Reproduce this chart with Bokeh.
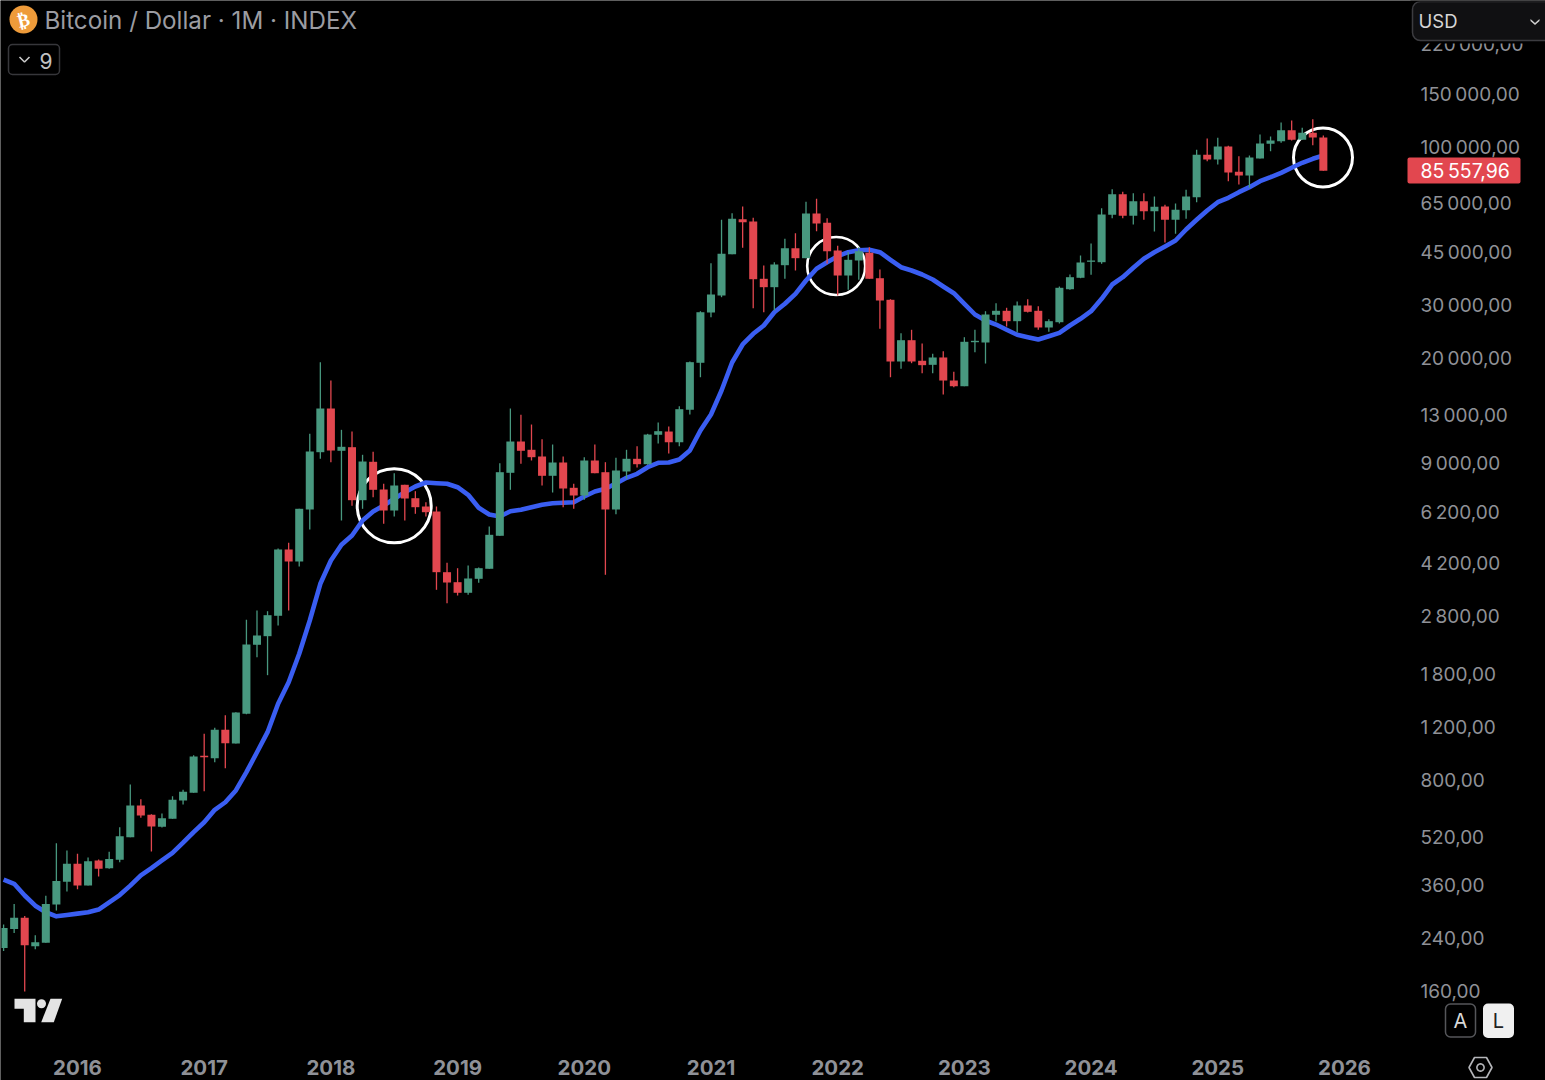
import numpy as np
from bokeh.plotting import figure
from bokeh.models import (BoxAnnotation, ColumnDataSource, FixedTicker, Label, LinearScale,
                          PolyAnnotation, Range1d)
from bokeh.embed import file_html
from bokeh.resources import INLINE

TITLE = "Bitcoin / Dollar · 1M · INDEX"
LAST_PRICE_TEXT = "85\u2009557,96"
CURRENCY = "USD"
INDICATOR_COUNT = "9"

# Monthly candles, Jun 2015 to Nov 2025
OPEN = [223,258,281,226,232,311,370,424,359,435,410,437,519,661,616,562,598,687,729,966,949,
        1178,1061,1331,2253,2406,2811,4661,4253,6323,9789,13660,9894,10170,6788,9098,7365,6275,7634,6892,6469,6227,
        3920,3632,3350,3727,4023,5174,8365,10620,9970,9473,8176,9049,7461,7036,9188,8404,6323,8449,9308,8933,11180,
        11460,10560,13530,19360,28410,32340,44320,57880,56870,36740,34460,40750,46390,42990,60450,56310,45590,37670,42240,44790,36900,
        31300,19550,23000,19660,19060,20160,16910,16190,22650,22600,27920,28780,26590,29970,28780,25340,26380,33930,37020,41820,41690,
        59850,70030,59400,66390,61520,63760,57610,61990,68450,94580,91250,100800,83080,80770,91950,102900,104900,114100,106000,111900,107900]
HIGH = [267,312,285,246,332,496,469,458,445,438,465,560,776,694,619,622,710,746,971,1143,1196,
        1317,1347,2726,2927,2911,4696,4905,6357,11260,19450,16910,11610,11460,9597,9819,7692,8340,7634,7270,6685,6469,
        4211,4041,4125,4063,5554,9001,13660,13020,12090,10810,10380,9473,7692,9422,10380,9070,9379,9970,10250,11260,12280,
        11910,13900,19550,28690,41380,57610,60590,63760,58500,40660,41690,49840,52020,66090,67620,58320,47250,45000,46750,46750,39440,
        31440,24260,24900,22430,20730,21150,18070,23530,24900,28690,30500,29450,30900,31440,29810,26990,34640,37960,43880,48090,62940,
        72760,71330,70570,70570,68820,64600,65240,72420,98260,107100,107700,101300,93580,94080,110400,108800,121000,122900,116200,124100,109600]
LOW = [218,250,160,221,232,297,343,349,359,385,408,429,519,602,466,559,598,666,729,738,920,
       879,1061,1327,2050,1787,2610,2927,4094,5429,9308,9070,5814,6504,6357,6945,5670,5994,5814,6119,5994,3427,
       3094,3281,3299,3615,4023,5174,7348,8960,9188,7593,7198,6435,6357,6809,8340,3843,6100,7991,8711,8892,10460,
       9692,10250,13050,17340,27410,31930,44320,46530,29360,28470,28850,36740,39140,42990,52810,41190,32340,33780,36460,36740,25090,
       17340,18490,19300,17880,17880,15200,16070,16190,20990,19250,26520,25530,24450,28410,24900,24520,26120,33780,36900,37870,41190,
       58320,58320,55580,57610,52690,48450,51780,58050,65890,90080,87840,77330,75410,73540,91950,97220,103600,105500,106000,101800,83720]
CLOSE = [260,281,228,233,312,372,424,359,432,408,440,523,661,613,564,600,691,734,961,956,1178,
         1064,1344,2258,2419,2824,4661,4253,6357,9841,13660,9916,10200,6788,9118,7348,6275,7593,6876,6435,6194,3920,
         3623,3350,3736,4041,5213,8404,10620,9894,9422,8176,9049,7421,7036,9188,8340,6323,8514,9308,8933,11200,11490,
         10560,13590,19450,28470,32590,44450,58050,56570,36620,34460,40970,46390,42990,60450,56010,45340,37670,42460,45340,36740,31130,
         19550,23000,19550,19010,20160,16910,16190,22720,22890,27980,28780,26590,29970,28560,25340,26590,34300,37190,41600,42240,59990,
         70030,59400,66390,61520,63620,57610,62180,68820,94580,91250,100800,82640,80770,92660,103100,105500,114100,106000,111900,107900,83720]
MA = [376,364,333,308,293,284,287,290,293,299,316,334,359,388,410,435,461,498,540,582,640,678,742,853,993,1157,1437,1694,2104,2712,3588,4285,4831,5186,5814,6227,6519,6861,7215,7535,7769,7728,7692,7495,7073,6406,6086,5994,6242,6309,6435,6554,6634,6655,6685,6982,7254,7404,7710,8052,8302,8731,9028,9049,9259,9916,11550,13050,15670,19400,22260,24150,25730,28470,30360,32760,36260,39650,41690,43650,45000,45690,45830,45000,42460,40130,39140,37960,36540,34640,32910,30360,27980,26730,25920,24900,23970,23530,23120,23710,24330,25730,27080,28690,31540,35170,37190,39950,42790,45000,47000,49200,53500,57610,61850,65890,68140,71110,73880,77330,79730,82450,85660,88990,91740,94080]
FIRST_MONTH = -7   # months after Jan 2016
YEARS = list(range(2016, 2027))
PRICE_TICKS = [160,240,360,520,800,1200,1800,2800,4200,6200,9000,13000,20000,30000,45000,65000,100000,150000,220000]

GREEN, RED, BLUE = "#48987f", "#e2474f", "#3a5ef2"
AXIS_GREY, FONT = "#8f9197", "Inter"

FRAME_W, FRAME_H = 1545, 1080
PX_PER_MONTH, X_JAN16 = 10.558, 77.0
PX_PER_DEC, Y_1E5 = 301.9, 147.0

n = len(OPEN)
months = np.arange(n) + FIRST_MONTH
up = np.array(CLOSE) >= np.array(OPEN)
src = ColumnDataSource(dict(
    x=months, top=np.maximum(OPEN, CLOSE), bottom=np.minimum(OPEN, CLOSE),
    high=HIGH, low=LOW, c=np.where(up, GREEN, RED), ma=MA))

p = figure(frame_width=FRAME_W, frame_height=FRAME_H, y_axis_type="log", y_axis_location="right",
           x_range=Range1d(-X_JAN16 / PX_PER_MONTH, (FRAME_W - X_JAN16) / PX_PER_MONTH),
           y_range=Range1d(10 ** (5 - (FRAME_H - Y_1E5) / PX_PER_DEC), 10 ** (5 + Y_1E5 / PX_PER_DEC)),
           background_fill_color="black", border_fill_color="black", outline_line_color=None,
           toolbar_location=None, output_backend="svg",
           min_border_left=0, min_border_top=0, min_border_right=0, min_border_bottom=0)
p.outline_line_alpha = 0
p.outline_line_width = 0
p.grid.visible = False
p.extra_x_ranges["px"] = Range1d(0, FRAME_W)
p.extra_y_ranges["px"] = Range1d(FRAME_H, 0)
p.extra_x_scales["px"] = LinearScale()
p.extra_y_scales["px"] = LinearScale()

for ax in (p.xaxis[0], p.yaxis[0]):
    ax.axis_line_color = None
    ax.major_tick_line_color = None
    ax.minor_tick_line_color = None
    ax.major_label_text_font = FONT
    ax.major_label_text_color = AXIS_GREY
# both axes stay inside the full-canvas frame, on the lines of the original price and time scales
p.xaxis.fixed_location = 10 ** (5 - (1050 - Y_1E5) / PX_PER_DEC)
p.yaxis.fixed_location = (1409 - X_JAN16) / PX_PER_MONTH
p.xaxis.ticker = FixedTicker(ticks=[(y - 2016) * 12 for y in YEARS])
p.xaxis.major_label_overrides = {(y - 2016) * 12: str(y) for y in YEARS}
p.xaxis.major_label_text_font_size = "20.5px"
p.xaxis.major_label_text_font_style = "bold"
p.xaxis.major_label_standoff = 3
p.yaxis.ticker = FixedTicker(ticks=PRICE_TICKS)
p.yaxis.major_label_overrides = {t: f"{t:,}".replace(",", "\u2009") + ",00" for t in PRICE_TICKS}
p.yaxis.major_label_text_font_size = "19px"
p.yaxis.major_label_standoff = 5

# highlight rings sit under everything else
for cx, cy, d, lw in [(393.7, 505.3, 74, 3), (835.7, 265.5, 58, 2.6), (1322.5, 157, 59, 3)]:
    p.scatter([cx], [cy], size=d, marker="circle", fill_color=None, line_color="white", line_width=lw,
              x_range_name="px", y_range_name="px")

p.line("x", "ma", source=src, line_color=BLUE, line_width=4.6, line_join="round")
p.segment("x", "high", "x", "low", source=src, line_color="c", line_width=1.3)
p.vbar("x", 0.76, "bottom", "top", source=src, fill_color="c", line_color=None)

# chart furniture inside the pane
p.scatter([23], [19], size=28, marker="circle", fill_color="#ee9b3a", line_color=None,
          x_range_name="px", y_range_name="px")
LOGO = "#e4e4e4"
p.patches([[14, 35, 35, 23.3, 23.3, 14], [50, 61.7, 53.3, 40.7]],
          [[998.3, 998.3, 1021.7, 1021.7, 1008.3, 1008.3], [998.3, 998.3, 1021.7, 1021.7]],
          fill_color=LOGO, line_color=None, x_range_name="px", y_range_name="px")
p.scatter([41], [1003.3], size=9, marker="circle", fill_color=LOGO, line_color=None,
          x_range_name="px", y_range_name="px")
p.multi_line([[19, 24, 29]], [[56.5, 61.5, 56.5]], line_color="#c8c8c8", line_width=1.6,
             x_range_name="px", y_range_name="px")


def box(l, r, t, b, fill, line=None, radius=0, lw=1):
    p.add_layout(BoxAnnotation(left=l, right=r, top=t, bottom=b, left_units="canvas", right_units="canvas",
                               top_units="canvas", bottom_units="canvas", fill_color=fill, fill_alpha=1 if fill else 0,
                               line_color=line, line_width=lw, line_alpha=1, border_radius=radius))


def label(x, y, text, size, color, align="left", style="normal", font=FONT, angle=0):
    p.add_layout(Label(x=x, y=y, x_units="canvas", y_units="canvas", text=text, text_font=font,
                       text_font_size=f"{size}px", text_color=color, text_align=align, text_baseline="middle",
                       text_font_style=style, angle=angle, angle_units="deg"))


def poly(xs, ys, fill, line=None, lw=1):
    p.add_layout(PolyAnnotation(xs=list(xs), ys=list(ys), xs_units="canvas", ys_units="canvas",
                                fill_color=fill, fill_alpha=1 if fill else 0, line_color=line,
                                line_alpha=1, line_width=lw))


label(23, 19.5, "₿", 18, "white", "center", "bold", "DejaVu Sans", 14)
label(44, 19.5, TITLE, 24.2, "#9b9ca2")
box(8, 59, 44, 74, None, "#37373b", 4, 1.5)
label(39, 60, INDICATOR_COUNT, 21, "#c2c2c2")

box(1410, 1545, 0, 43, "black")
box(1412, 1560, 1, 40, "#101012", "#3c3c40", 8, 1.5)
label(1418, 20.5, CURRENCY, 18.5, "#d6d6d6")
poly([1530, 1534.5, 1539, 1539, 1534.5, 1530], [18.5, 22.5, 18.5, 20.5, 24.5, 20.5], "#d0d0d0")

box(1407, 1520, 157, 183, RED, None, 2)
label(1420, 170, LAST_PRICE_TEXT, 19.5, "white")

box(1445, 1475, 1003.5, 1036.5, "black", "#55565a", 5, 1.5)
label(1460, 1020.5, "A", 20, "#d8d8d8", "center")
box(1482.5, 1513.5, 1003, 1037.5, "#f0f0f0", None, 5)
label(1498, 1020.5, "L", 20, "#222222", "center")

poly([1468.5, 1474, 1486, 1491.5, 1486, 1474], [1067, 1057, 1057, 1067, 1077, 1077], None, "#b5b6ba", 1.6)
t = np.linspace(0, 2 * np.pi, 24, endpoint=False)
poly(1480 + 3.6 * np.cos(t), 1067 + 3.6 * np.sin(t), None, "#b5b6ba", 1.6)

# the canvas edge stays black like the rest of the page
box(0, 1545, 0, 1, "black")
box(0, 1, 0, 1080, "black")

open("out.html", "w").write(file_html(p, INLINE))
